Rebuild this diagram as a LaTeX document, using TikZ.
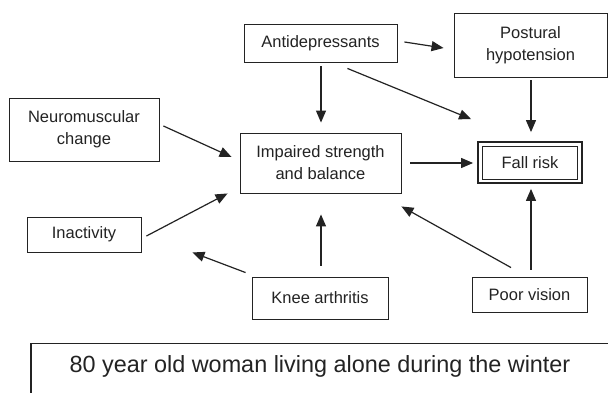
\documentclass[tikz,border=0pt]{standalone}
\usepackage{fontspec}
\setmainfont{Liberation Sans}
\usetikzlibrary{arrows.meta,calc}
\definecolor{ink}{RGB}{35,35,35}
\tikzset{
  box/.style={draw=ink, line width=0.9pt, inner sep=0pt, align=center, text=ink,
    font=\fontsize{16.5}{22}\selectfont},
  arr/.style={draw=ink, line width=1.2pt, -{Triangle[length=12pt,width=10pt]}},
}
\begin{document}
\begin{tikzpicture}[x=1pt,y=-1pt]
\useasboundingbox (0,0) rectangle (608,393);
\clip (0,0) rectangle (608,393);
\fill[white] (0,0) rectangle (608,393);

\node[box, minimum width=153pt, minimum height=38pt] (anti) at (320.5,43) {Antidepressants};
\node[box, minimum width=153pt, minimum height=64pt] (post) at (530.5,45) {Postural\\hypotension};
\node[box, minimum width=150pt, minimum height=63pt] (neuro) at (84,129.5) {Neuromuscular\\change};
\node[box, minimum width=161pt, minimum height=60pt] (imp) at (320.5,163) {Impaired strength\\and balance};
\node[box, line width=1.8pt, minimum width=104pt, minimum height=41pt] (fall) at (530,162.5) {};
\node[box, minimum width=95pt, minimum height=33pt] (fallin) at (530,162.5) {Fall risk};
\node[box, minimum width=114pt, minimum height=35pt] (inact) at (84,234.5) {Inactivity};
\node[box, minimum width=136pt, minimum height=42pt] (knee) at (320,298) {Knee arthritis};
\node[box, minimum width=115pt, minimum height=35pt] (vision) at (529.5,294.5) {Poor vision};

\node[draw=ink, line width=1.2pt, minimum width=578pt, minimum height=62pt, anchor=north, inner sep=0pt] (base) at (320,343) {};
\node[text=ink, font=\fontsize{23.4}{28}\selectfont, anchor=base, inner sep=0pt] (basetext) at (320,372) {80 year old woman living alone during the winter};

\draw[arr] ($(anti.east)+(7,-1)$) -- ($(post.west)+(-10,3)$);
\draw[arr] ($(anti.south)+(0.5,4)$) -- ($(imp.north)+(0.5,-10)$);
\draw[arr] ($(anti.south east)+(-50,6)$) -- ($(fall.north west)+(-6,-22)$);
\draw[arr] ($(post.south)+(0.5,3)$) -- ($(fall.north)+(1,-9)$);
\draw[arr] ($(imp.east)+(9,0)$) -- ($(fall.west)+(-4,0.5)$);
\draw[arr] ($(neuro.east)+(4,-3.5)$) -- ($(imp.west)+(-8,-6)$);
\draw[arr] ($(inact.east)+(5,1.5)$) -- ($(imp.south west)+(-12,0)$);
\draw[arr] ($(knee.north west)+(-6,-4)$) -- ($(inact.south east)+(51,0)$);
\draw[arr] ($(knee.north)+(1,-11)$) -- ($(imp.south)+(0.5,21)$);
\draw[arr] ($(vision.north)+(-18.5,-9)$) -- ($(imp.south east)+(0,13)$);
\draw[arr] ($(vision.north)+(1.5,-7)$) -- ($(fall.south)+(1,5)$);
\end{tikzpicture}
\end{document}
